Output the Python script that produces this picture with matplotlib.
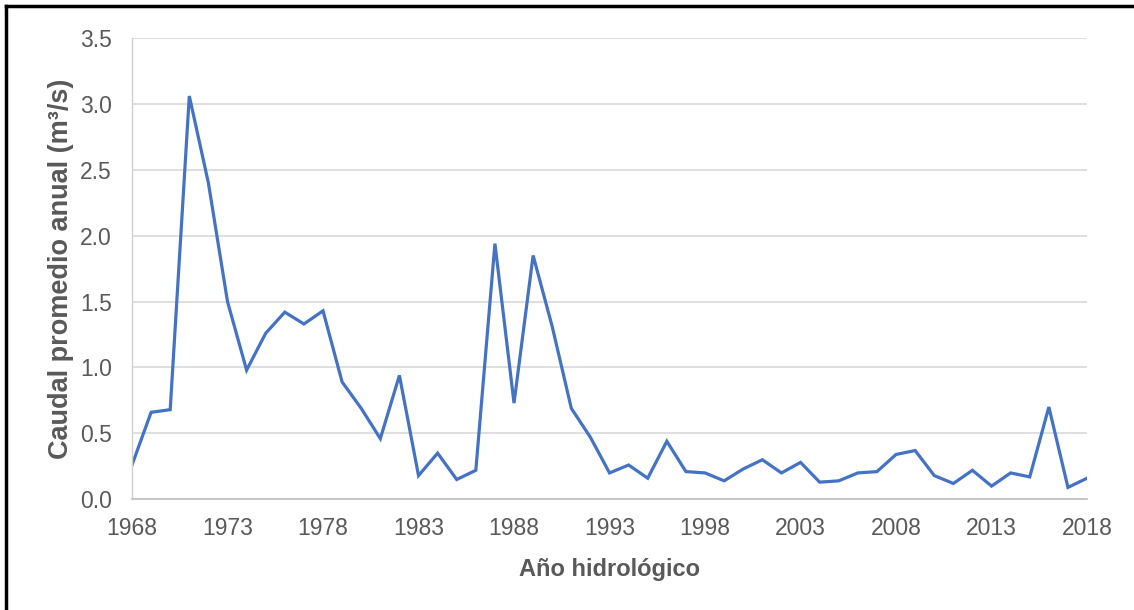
import matplotlib
matplotlib.use("Agg")
import matplotlib.pyplot as plt
from matplotlib.lines import Line2D

plt.rcParams['font.family'] = ['Liberation Sans', 'DejaVu Sans']

# caudal promedio anual por año hidrológico
years = list(range(1968, 2019))
caudal = [0.26, 0.66, 0.68, 3.06, 2.40, 1.50, 0.98, 1.26, 1.42, 1.33,
          1.43, 0.89, 0.69, 0.46, 0.94, 0.18, 0.35, 0.15, 0.22, 1.94,
          0.73, 1.85, 1.31, 0.69, 0.47, 0.20, 0.26, 0.16, 0.44, 0.21,
          0.20, 0.14, 0.23, 0.30, 0.20, 0.28, 0.13, 0.14, 0.20, 0.21,
          0.34, 0.37, 0.18, 0.12, 0.22, 0.10, 0.20, 0.17, 0.70, 0.09,
          0.16]

xticks = list(range(1968, 2019, 5))
yticks = [0.0, 0.5, 1.0, 1.5, 2.0, 2.5, 3.0, 3.5]

gris = "#595959"

fig = plt.figure(figsize=(11.34, 6.10), dpi=100)
ax = fig.add_axes([0.1164, 0.1815, 0.8422, 0.7562])

ax.plot(years, caudal, color="#4472C4", linewidth=2.3, solid_joinstyle="miter")

ax.set_xlim(1968, 2018)
ax.set_ylim(0, 3.5)
ax.set_xticks(xticks)
ax.set_yticks(yticks)
ax.set_yticklabels([f"{v:.1f}" for v in yticks])

ax.grid(axis="y", color="#D9D9D9", linewidth=1.2)
ax.set_axisbelow(True)
for s in ["top", "right"]:
    ax.spines[s].set_visible(False)
ax.spines["left"].set_color("#D0D0D0")
ax.spines["bottom"].set_color("#BFBFBF")
ax.spines["left"].set_linewidth(1.0)
ax.spines["bottom"].set_linewidth(1.2)

ax.tick_params(axis="both", length=0, colors=gris, labelsize=16.5)
ax.tick_params(axis="x", pad=13)
ax.tick_params(axis="y", pad=14.5)

ax.set_xlabel("Año hidrológico", fontsize=17, fontweight="bold", color=gris, labelpad=13)
ax.set_ylabel("Caudal promedio anual (m³/s)", fontsize=19.5, fontweight="bold", color=gris, labelpad=4.5)

# marco exterior
fig.add_artist(Line2D([0.0053, 0.0053], [0.0, 0.990], color="black", linewidth=2.5))
fig.add_artist(Line2D([0.0053, 1.0], [0.990, 0.990], color="black", linewidth=2.5))

fig.savefig("out.png", dpi=100)
